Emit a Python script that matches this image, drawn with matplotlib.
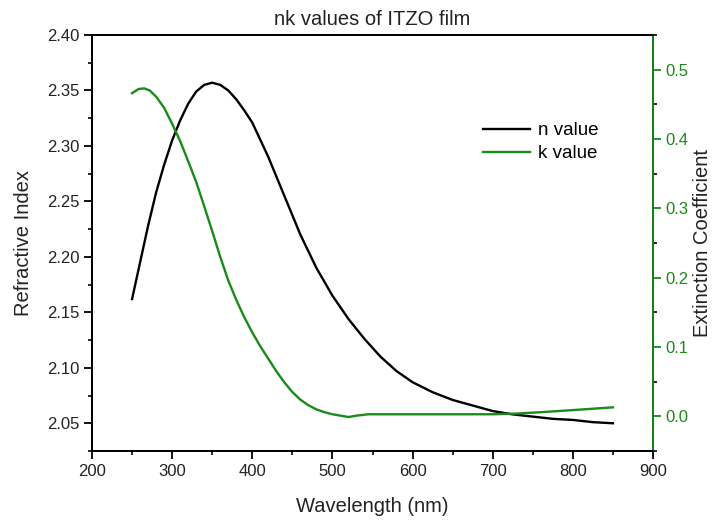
import matplotlib.pyplot as plt
from matplotlib.ticker import MultipleLocator

plt.rcParams['font.family'] = ['Liberation Sans', 'DejaVu Sans']

# wavelength (nm) and refractive index n
wl_n = [250, 260, 270, 280, 290, 300, 310, 320, 330, 340, 350, 360, 370, 380,
        390, 400, 420, 440, 460, 480, 500, 520, 540, 560, 580, 600, 625, 650,
        675, 700, 725, 750, 775, 800, 825, 850]
n_val = [2.162, 2.195, 2.228, 2.258, 2.283, 2.305, 2.323, 2.338, 2.349, 2.355,
         2.357, 2.355, 2.350, 2.342, 2.332, 2.321, 2.290, 2.255, 2.220, 2.190,
         2.165, 2.144, 2.126, 2.110, 2.097, 2.087, 2.078, 2.071, 2.066, 2.061,
         2.058, 2.056, 2.054, 2.053, 2.051, 2.050]

# wavelength (nm) and extinction coefficient k
wl_k = [250, 258, 265, 272, 280, 290, 300, 310, 320, 330, 340, 350, 360, 370,
        380, 390, 400, 410, 420, 430, 440, 450, 460, 470, 480, 490, 500, 510,
        520, 530, 545, 600, 650, 700, 730, 760, 800, 850]
k_val = [0.466, 0.472, 0.473, 0.470, 0.461, 0.445, 0.422, 0.397, 0.368, 0.338,
         0.303, 0.267, 0.230, 0.196, 0.168, 0.143, 0.121, 0.101, 0.083, 0.065,
         0.049, 0.035, 0.024, 0.016, 0.010, 0.006, 0.003, 0.001, -0.001, 0.001,
         0.003, 0.003, 0.003, 0.003, 0.004, 0.006, 0.009, 0.013]

green = '#1a8a1a'
txt = '#222222'

fig = plt.figure(figsize=(7.12, 5.22), dpi=100)
ax = fig.add_axes([0.1292, 0.136, 0.788, 0.797])
ax2 = ax.twinx()

l1, = ax.plot(wl_n, n_val, color='black', lw=1.7, label='n value')
l2, = ax2.plot(wl_k, k_val, color=green, lw=1.7, label='k value')

ax.set_xlim(200, 900)
ax.set_ylim(2.025, 2.40)
ax2.set_ylim(-0.05, 0.55)

ax.xaxis.set_major_locator(MultipleLocator(100))
ax.xaxis.set_minor_locator(MultipleLocator(50))
ax.yaxis.set_minor_locator(MultipleLocator(0.025))
ax.set_yticks([2.05, 2.10, 2.15, 2.20, 2.25, 2.30, 2.35, 2.40])
ax.yaxis.set_major_formatter(plt.FormatStrFormatter('%.2f'))
ax2.yaxis.set_minor_locator(MultipleLocator(0.05))
ax2.set_yticks([0.0, 0.1, 0.2, 0.3, 0.4, 0.5])
ax2.yaxis.set_major_formatter(plt.FormatStrFormatter('%.1f'))

for a in (ax, ax2):
    a.tick_params(which='major', direction='out', length=5.5, width=1.3, labelsize=12)
    a.tick_params(which='minor', direction='out', length=3, width=1.2)
    for s in a.spines.values():
        s.set_linewidth(1.3)
ax.tick_params(axis='both', colors='black', labelcolor=txt)
ax2.tick_params(axis='y', colors=green, labelcolor=green)
ax2.spines['right'].set_color(green)

ax.set_xlabel('Wavelength (nm)', fontsize=14.5, labelpad=13, color=txt)
ax.set_ylabel('Refractive Index', fontsize=14.5, labelpad=10, color=txt)
ax2.set_ylabel('Extinction Coefficient', fontsize=14.5, labelpad=3, color=txt)
ax.set_title('nk values of ITZO film', fontsize=14.5, pad=7, color=txt)

ax.legend(handles=[l1, l2], loc='upper left', bbox_to_anchor=(0.697, 0.79),
          frameon=False, fontsize=13.5, handlelength=2.5, handletextpad=0.45,
          labelspacing=0.3, borderpad=0, borderaxespad=0)

fig.savefig('out.png', dpi=100)
